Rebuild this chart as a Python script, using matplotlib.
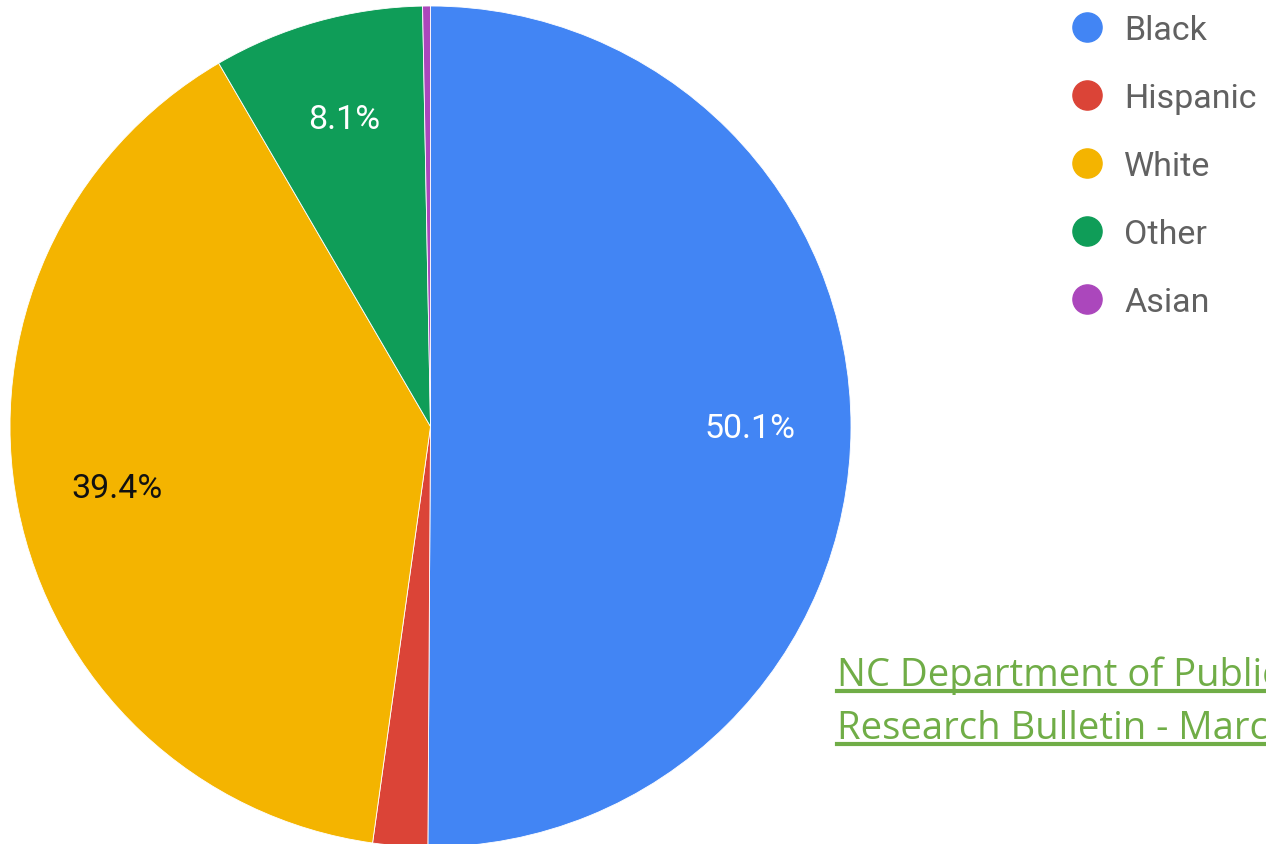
import matplotlib.pyplot as plt
from matplotlib.lines import Line2D

# Race breakdown, percent of total
labels = ['Black', 'Hispanic', 'White', 'Other', 'Asian']
shares = [50.1, 2.1, 39.4, 8.1, 0.3]
colors = ['#4285f4', '#db4437', '#f4b400', '#0f9d58', '#ab47bc']
label_colors = ['white', 'white', '#111111', 'white', 'white']

source_lines = ['NC Department of Public Safety',
                'Research Bulletin - March 2019']

W, H = 1266, 845
fig = plt.figure(figsize=(W / 100, H / 100), dpi=100)

# pie axes placed in pixel terms: centre (430.5, 427.5), radius 420.5
cx, cy, r = 430.5, 427.5, 420.5
ax = fig.add_axes([(cx - r) / W, (H - cy - r) / H, 2 * r / W, 2 * r / H])


def pct_label(p):
    return f'{p:.1f}%' if p > 5 else ''


wedges, texts, autotexts = ax.pie(
    shares, colors=colors, startangle=90, counterclock=False, radius=1,
    autopct=pct_label, pctdistance=0.76,
    wedgeprops=dict(edgecolor='white', linewidth=0.6),
    textprops=dict(fontsize=24.5, family='Roboto'))
for t, c in zip(autotexts, label_colors):
    t.set_color(c)
ax.set_xlim(-1, 1)
ax.set_ylim(-1, 1)
ax.axis('off')

# legend on the right
for i, (lab, col) in enumerate(zip(labels, colors)):
    y = 28 + i * 68
    fig.add_artist(Line2D([1087 / W], [1 - y / H], marker='o', markersize=21,
                          color=col, markeredgecolor=col, linestyle='None',
                          transform=fig.transFigure))
    fig.text(1124 / W, 1 - (y + 3) / H, lab, fontsize=24.5, family='Roboto',
             color='#616161', va='center', ha='left')

# source link, underlined
for i, line in enumerate(source_lines):
    base = 686 + i * 53
    fig.text(837 / W, 1 - base / H, line, fontsize=27.5, family='Open Sans',
             color='#70ad47', va='baseline', ha='left')
    ul = base + 6
    fig.add_artist(Line2D([837 / W, 1.0], [1 - ul / H, 1 - ul / H],
                          color='#70ad47', linewidth=3,
                          transform=fig.transFigure))

fig.savefig('out.png', dpi=100)
